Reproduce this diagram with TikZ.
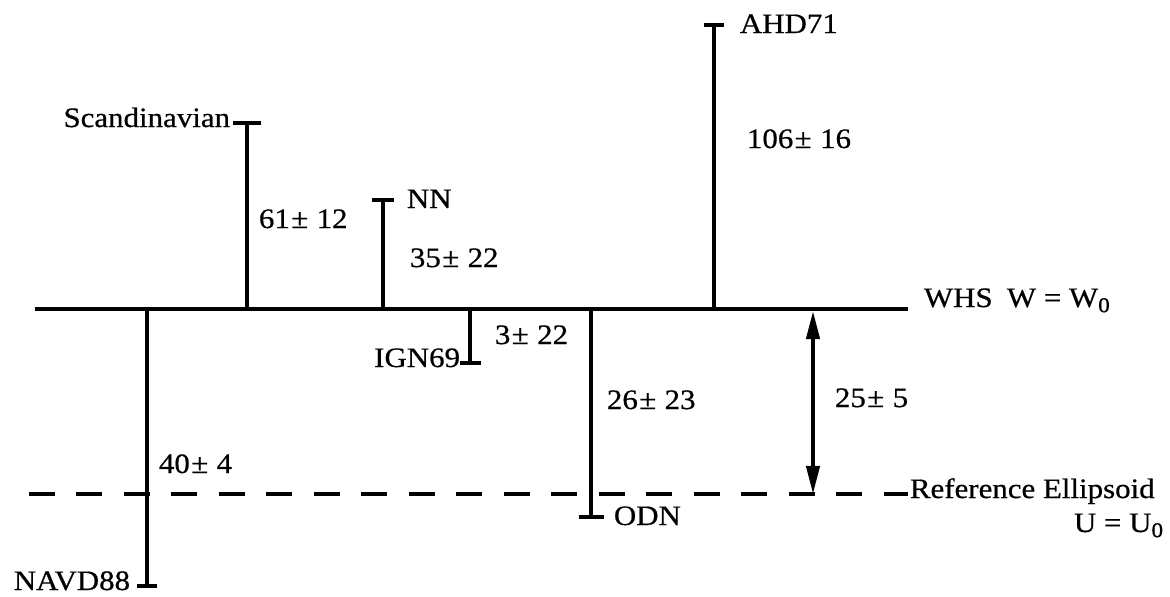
\documentclass[tikz,border=0pt]{standalone}
\usepackage{fontspec}
\setmainfont{Liberation Serif}[FakeStretch=1.1, FakeBold=0.6]
\usetikzlibrary{arrows.meta}
\newcommand{\pmval}[2]{#1\kern0.05em±\kern0.3em#2}
\newcommand{\zerosub}{\raisebox{-0.4ex}{\fontsize{12}{12}\selectfont 0}}

\begin{document}
\begin{tikzpicture}[x=0.02cm, y=-0.02cm, line width=2.2pt,
	lbl/.style={inner sep=0pt, font=\fontsize{16}{19}\selectfont}]
	\useasboundingbox (0,0) rectangle (1170,596);
	% reference surfaces
	\coordinate (whsL) at (35,309);
	\coordinate (whsR) at (908,309);
	\coordinate (ellL) at (29,494);
	\coordinate (ellR) at (908,494);
	\draw (whsL) -- (whsR);
	\draw [dash pattern=on 0.52cm off 0.43cm] (ellL) -- (ellR);
	\node [lbl, anchor=base west] (whs) at (922,307) {WHS};
	\node [lbl, anchor=base west] (wpot) at (1005,307) {W = W\zerosub};
	\node [lbl, anchor=base west] (ell) at (908,498) {Reference Ellipsoid};
	\node [lbl, anchor=base west] (upot) at (1072,532) {U = U\zerosub};
	% datums
	\coordinate (scandB) at (247,309);  \coordinate (scand) at (247,123);
	\coordinate (nnB) at (383,309);     \coordinate (nn) at (383,200);
	\coordinate (ahdB) at (714,309);    \coordinate (ahd) at (714,25);
	\coordinate (ignB) at (470,309);    \coordinate (ign) at (470,363);
	\coordinate (odnB) at (591,309);    \coordinate (odn) at (591,517);
	\coordinate (navdB) at (147,309);   \coordinate (navd) at (147,586);
	\draw (scandB) -- (scand);
	\draw ([xshift=-0.28cm]scand) -- ([xshift=0.28cm]scand);
	\draw (nnB) -- (nn);
	\draw ([xshift=-0.22cm]nn) -- ([xshift=0.22cm]nn);
	\draw (ahdB) -- (ahd);
	\draw ([xshift=-0.2cm]ahd) -- ([xshift=0.2cm]ahd);
	\draw (ignB) -- (ign);
	\draw ([xshift=-0.2cm]ign) -- ([xshift=0.22cm]ign);
	\draw (odnB) -- (odn);
	\draw ([xshift=-0.25cm]odn) -- ([xshift=0.25cm]odn);
	\draw (navdB) -- (navd);
	\draw ([xshift=-0.2cm]navd) -- ([xshift=0.2cm]navd);
	\node [lbl, anchor=base east] (scandL) at (232,127) {Scandinavian};
	\node [lbl, anchor=base west] (nnL) at (405,208) {NN};
	\node [lbl, anchor=base west] (ahdL) at (738,33) {AHD71};
	\node [lbl, anchor=base east] (ignL) at (462,367) {IGN69};
	\node [lbl, anchor=base west] (odnL) at (612,525) {ODN};
	\node [lbl, anchor=base east] (navdL) at (132,590) {NAVD88};
	\node [lbl, anchor=base west] (scandV) at (257,228) {\pmval{61}{12}};
	\node [lbl, anchor=base west] (nnV) at (408,267) {\pmval{35}{22}};
	\node [lbl, anchor=base west] (ahdV) at (745,148) {\pmval{106}{16}};
	\node [lbl, anchor=base west] (ignV) at (493,344) {\pmval{3}{22}};
	\node [lbl, anchor=base west] (odnV) at (605,409) {\pmval{26}{23}};
	\node [lbl, anchor=base west] (navdV) at (157,473) {\pmval{40}{4}};
	% separation geoid - ellipsoid
	\coordinate (sepT) at (813,311);
	\coordinate (sepB) at (813,494);
	\draw [{Triangle[length=16pt,width=7.5pt]}-{Triangle[length=16pt,width=7.5pt]}] (sepT) -- (sepB);
	\node [lbl, anchor=base west] (sepV) at (833,407) {\pmval{25}{5}};
\end{tikzpicture}
\end{document}
